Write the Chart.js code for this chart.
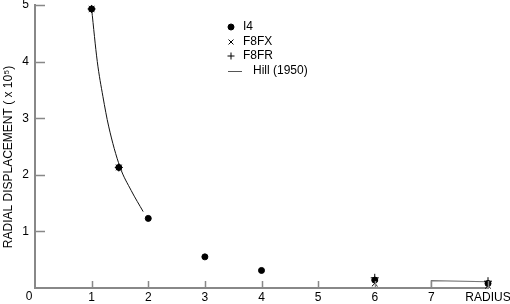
<!DOCTYPE html>
<html>
<head>
<meta charset="utf-8">
<script src="https://cdn.jsdelivr.net/npm/chart.js@4/dist/chart.umd.min.js"></script>
<style>
html,body{margin:0;padding:0;background:#fff;}
#wrap{width:510px;height:304px;position:relative;}
</style>
</head>
<body>
<div id="wrap"><canvas id="c" width="510" height="304"></canvas></div>
<script>
// ---- data ----
const i4X = [1, 1.48, 2, 3, 4, 6, 8];
const i4Y = [4.93, 2.13, 1.23, 0.55, 0.31, 0.14, 0.08];
const f8fxX = [1, 1.48, 6, 8];
const f8fxY = [4.93, 2.13, 0.08, 0.04];
const f8frX = [1, 1.48, 6, 8];
const f8frY = [4.93, 2.13, 0.18, 0.12];
const hillX = [1.0, 1.1, 1.2, 1.3, 1.5, 1.7, 1.91];
const hillY = [4.93, 4.0, 3.38, 2.86, 2.14, 1.72, 1.35];
const hill2X = [7, 7, 8];
const hill2Y = [0, 0.13, 0.11];
const xTickValues = [0, 1, 2, 3, 4, 5, 6, 7, 8];
const xTickLabels = ['0', '1', '2', '3', '4', '5', '6', '7', 'RADIUS'];
const yTickValues = [0, 1, 2, 3, 4, 5];
const yTickLabels = ['', '1', '2', '3', '4', '5'];
const legendLabels = ['I4', 'F8FX', 'F8FR', 'Hill (1950)'];
const yTitle = 'RADIAL DISPLACEMENT ( x 10\u2075)';

const pts = (xs, ys) => xs.map((x, i) => ({x: x, y: ys[i]}));

Chart.defaults.font.family = "'Liberation Sans', Arial, Helvetica, sans-serif";
Chart.defaults.font.size = 12;
Chart.defaults.color = '#000';

const AXIS = '#888';

const decor = {
  id: 'decor',
  afterDraw(chart) {
    const ctx = chart.ctx;
    const xs = chart.scales.x, ys = chart.scales.y;
    const a = chart.chartArea;
    ctx.save();
    // inward tick marks
    ctx.strokeStyle = AXIS;
    ctx.lineWidth = 1.5;
    ctx.beginPath();
    yTickValues.forEach(v => {
      if (v === 0) return;
      const py = Math.round(ys.getPixelForValue(v)) + 0.5;
      ctx.moveTo(a.left, py); ctx.lineTo(a.left + 10, py);
    });
    xTickValues.forEach(v => {
      if (v === 0) return;
      const px = Math.round(xs.getPixelForValue(v)) + 0.5;
      ctx.moveTo(px, a.bottom); ctx.lineTo(px, a.bottom - 7);
    });
    ctx.stroke();
    // origin label
    ctx.fillStyle = '#000';
    ctx.font = "12px 'Liberation Sans', Arial, sans-serif";
    ctx.textAlign = 'center';
    ctx.textBaseline = 'middle';
    ctx.fillText(xTickLabels[0], xs.getPixelForValue(0) - 6, a.bottom + 9);
    // y title
    ctx.save();
    ctx.translate(12, 157);
    ctx.rotate(-Math.PI / 2);
    ctx.textAlign = 'center';
    ctx.textBaseline = 'alphabetic';
    ctx.fillText(yTitle, 0, 0);
    ctx.restore();
    // legend
    const lx = 231, ly = [27, 42, 56, 71];
    ctx.fillStyle = '#000';
    ctx.strokeStyle = '#000';
    const styles = [
      {pointStyle: 'circle', radius: 3, borderWidth: 1},
      {pointStyle: 'crossRot', radius: 3.5, borderWidth: 1},
      {pointStyle: 'cross', radius: 3.5, borderWidth: 1}
    ];
    styles.forEach((s, i) => {
      ctx.lineWidth = 1;
      Chart.helpers.drawPoint(ctx, s, lx, ly[i]);
    });
    ctx.strokeStyle = '#555';
    ctx.lineWidth = 1;
    ctx.beginPath();
    ctx.moveTo(228, ly[3] + 0.5); ctx.lineTo(242, ly[3] + 0.5);
    ctx.stroke();
    ctx.textAlign = 'left';
    ctx.textBaseline = 'middle';
    ctx.fillStyle = '#000';
    ctx.fillText(legendLabels[0], 243, ly[0]);
    ctx.fillText(legendLabels[1], 243, ly[1]);
    ctx.fillText(legendLabels[2], 243, ly[2]);
    ctx.fillText(legendLabels[3], 253, ly[3]);
    ctx.restore();
  }
};

new Chart(document.getElementById('c'), {
  type: 'scatter',
  data: {
    datasets: [
      {label: legendLabels[3], data: pts(hillX, hillY), showLine: true, borderColor: '#111', borderWidth: 1,
       pointRadius: 0, cubicInterpolationMode: 'monotone', clip: false, order: 5},
      {label: legendLabels[3] + ' b', data: pts(hill2X, hill2Y), showLine: true, borderColor: '#777', borderWidth: 1.2,
       pointRadius: 0, tension: 0, clip: false, order: 5},
      {label: legendLabels[0], data: pts(i4X, i4Y), pointStyle: 'circle', pointRadius: 3,
       backgroundColor: '#000', borderColor: '#000', borderWidth: 1, clip: false},
      {label: legendLabels[1], data: pts(f8fxX, f8fxY), pointStyle: 'crossRot', pointRadius: 4,
       backgroundColor: '#000', borderColor: '#000', borderWidth: 1, clip: false},
      {label: legendLabels[2], data: pts(f8frX, f8frY), pointStyle: 'cross', pointRadius: 4,
       backgroundColor: '#000', borderColor: '#000', borderWidth: 1, clip: false}
    ]
  },
  options: {
    responsive: false,
    animation: false,
    events: [],
    layout: {padding: {top: 5, right: 22, left: 0, bottom: 0}},
    plugins: {legend: {display: false}, tooltip: {enabled: false}},
    scales: {
      x: {
        type: 'linear', min: 0, max: 8,
        grid: {display: false, drawTicks: false},
        border: {display: true, color: AXIS, width: 2},
        ticks: {
          stepSize: 1, padding: 2, maxRotation: 0, autoSkip: false,
          callback: v => (v === 0 ? '' : xTickLabels[xTickValues.indexOf(v)])
        },
        afterFit: s => { s.height = 16; s.paddingLeft = 0; s.paddingRight = 0; }
      },
      y: {
        type: 'linear', min: 0, max: 5,
        grid: {display: false, drawTicks: false},
        border: {display: true, color: AXIS, width: 2},
        ticks: {
          stepSize: 1, padding: 6,
          callback: v => yTickLabels[yTickValues.indexOf(v)]
        },
        afterFit: s => { s.width = 35; s.paddingTop = 0; s.paddingBottom = 0; }
      }
    }
  },
  plugins: [decor]
});
</script>
</body>
</html>
